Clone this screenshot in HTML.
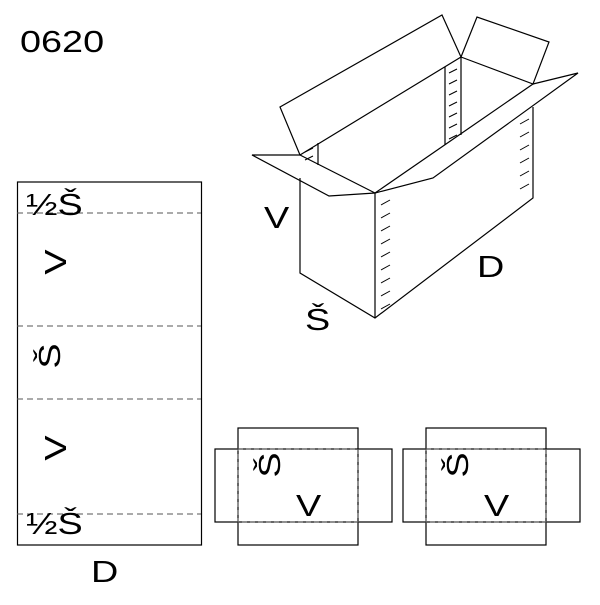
<!DOCTYPE html>
<html><head><meta charset="utf-8"><style>body{margin:0;background:#fff}</style></head><body>
<svg width="600" height="600" xmlns="http://www.w3.org/2000/svg" font-family="Liberation Sans, sans-serif">
<rect width="600" height="600" fill="#fff"/>
<g fill="none" stroke="#000" stroke-width="1.2">
<rect x="17.5" y="182" width="184" height="363"/>
<g stroke="#555" stroke-dasharray="6,4" stroke-width="1">
<line x1="17" y1="213" x2="201" y2="213"/>
<line x1="17" y1="326" x2="201" y2="326"/>
<line x1="17" y1="399" x2="201" y2="399"/>
<line x1="17" y1="514" x2="201" y2="514"/>
</g>
<polyline points="300,178 300,273 375,318 533,198 533,107"/>
<line x1="375" y1="193" x2="375" y2="318"/>
<polyline points="300,155 252,155 329,196 375,193 433,178 578,73 533,84"/>
<line x1="300" y1="155" x2="375" y2="193"/>
<line x1="375" y1="193" x2="533" y2="84"/>
<polyline points="300,155 280,107 442,15 461,57 300,155"/>
<polyline points="461,57 477,17 549,42 533,84 461,57"/>
<line x1="461" y1="57" x2="461" y2="135"/>
<line x1="445" y1="67" x2="445" y2="145"/>
<line x1="318" y1="143" x2="318" y2="165"/>
<g stroke-width="1">
<path d="M449,73l8,-4M449,84l8,-4M449,95l8,-4M449,106l8,-4M449,117l8,-4M449,128l8,-4M449,139l8,-4"/>
<path d="M305,160l8,-4M305,152l8,-4"/>
<path d="M381,205l9,-5M381,218l9,-5M381,231l9,-5M381,244l9,-5M381,257l9,-5M381,270l9,-5M381,283l9,-5M381,296l9,-5M381,309l9,-5"/>
<path d="M520,124l9,-5M520,137l9,-5M520,150l9,-5M520,163l9,-5M520,176l9,-5M520,189l9,-5"/>
</g>
<rect x="238" y="428" width="120" height="117"/>
<rect x="215" y="449" width="177" height="73"/>
<rect x="426" y="428" width="120" height="117"/>
<rect x="403" y="449" width="177" height="73"/>
</g>
<g fill="#fff" stroke="none">
<rect x="239" y="450" width="118" height="71"/>
<rect x="427" y="450" width="118" height="71"/>
</g>
<g fill="none" stroke="#555" stroke-dasharray="5,3" stroke-width="1">
<rect x="238" y="449" width="120" height="73"/>
<rect x="426" y="449" width="120" height="73"/>
</g>
<g font-size="31" fill="#000">
<text transform="translate(20,52) scale(1.22,1)">0620</text>
<text transform="translate(264,228) scale(1.22,1)">V</text>
<text transform="translate(477,277) scale(1.22,1)">D</text>
<text transform="translate(305,330) scale(1.22,1)">Š</text>
<text transform="translate(91,582) scale(1.22,1)">D</text>
<text transform="translate(26,215) scale(1.22,1)">½Š</text>
<text transform="translate(26,534) scale(1.22,1)">½Š</text>
<text transform="translate(66,262) rotate(-90) scale(1.22,1)" text-anchor="middle">V</text>
<text transform="translate(66,448) rotate(-90) scale(1.22,1)" text-anchor="middle">V</text>
<text transform="translate(60,356) rotate(-90) scale(1.22,1)" text-anchor="middle">Š</text>
<text transform="translate(280,465) rotate(-90) scale(1.22,1)" text-anchor="middle">Š</text>
<text transform="translate(468,465) rotate(-90) scale(1.22,1)" text-anchor="middle">Š</text>
<text transform="translate(296,516) scale(1.22,1)">V</text>
<text transform="translate(484,516) scale(1.22,1)">V</text>
</g>
</svg>
</body></html>
